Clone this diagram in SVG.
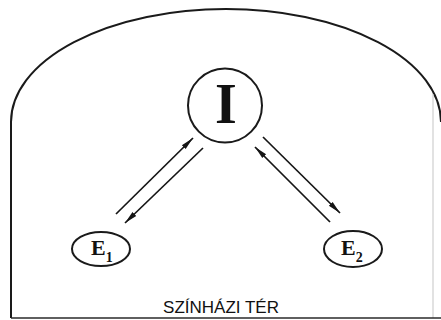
<svg xmlns="http://www.w3.org/2000/svg" width="441" height="320" viewBox="0 0 441 320">
  <style>
    .frame { fill: none; stroke: #1a1a1a; stroke-width: 2; }
    .faint { fill: none; stroke: #cfcfcf; stroke-width: 1.2; }
    .node { fill: #fff; stroke: #1a1a1a; stroke-width: 2; }
    .lbl { font-family: "Liberation Serif", "Times New Roman", serif; fill: #111; font-weight: bold; }
    .conn { stroke: #151515; stroke-width: 1.7; fill: none; }
    .title { font-family: "Liberation Sans", Arial, sans-serif; font-size: 17px; fill: #111; }
  </style>
  <defs>
    <marker id="ah" markerUnits="userSpaceOnUse" markerWidth="16" markerHeight="8" refX="13" refY="4" orient="auto">
      <path d="M0,1.3 L13,4 L0,6.7 Z" fill="#151515"/>
    </marker>
  </defs>
  <rect width="441" height="320" fill="#fff"/>
  <g id="frame">
    <path class="frame" d="M11,318 V122 A215,113 0 0 1 441,122"/>
    <path class="faint" d="M433,94 V318"/>
    <path d="M11,318 H441" stroke="#2a2a2a" stroke-width="1.4" fill="none"/>
    <text class="title" x="221" y="313" text-anchor="middle">SZÍNHÁZI TÉR</text>
  </g>
  <g id="connectors">
    <line class="conn" x1="116" y1="214" x2="193" y2="138" marker-end="url(#ah)"/>
    <line class="conn" x1="203" y1="148" x2="125" y2="223" marker-end="url(#ah)"/>
    <line class="conn" x1="263" y1="137" x2="340" y2="213" marker-end="url(#ah)"/>
    <line class="conn" x1="330" y1="222" x2="255" y2="147" marker-end="url(#ah)"/>
  </g>
  <g id="node-I">
    <circle class="node" cx="225" cy="105.5" r="37"/>
    <text class="lbl" x="226" y="123" font-size="56" text-anchor="middle">I</text>
  </g>
  <g id="node-E1">
    <ellipse class="node" cx="101" cy="249" rx="29" ry="17"/>
    <text class="lbl" x="91" y="255" font-size="22">E<tspan font-size="14" dy="7">1</tspan></text>
  </g>
  <g id="node-E2">
    <ellipse class="node" cx="353" cy="249" rx="29" ry="18"/>
    <text class="lbl" x="341" y="255" font-size="22">E<tspan font-size="14" dy="7">2</tspan></text>
  </g>
</svg>
